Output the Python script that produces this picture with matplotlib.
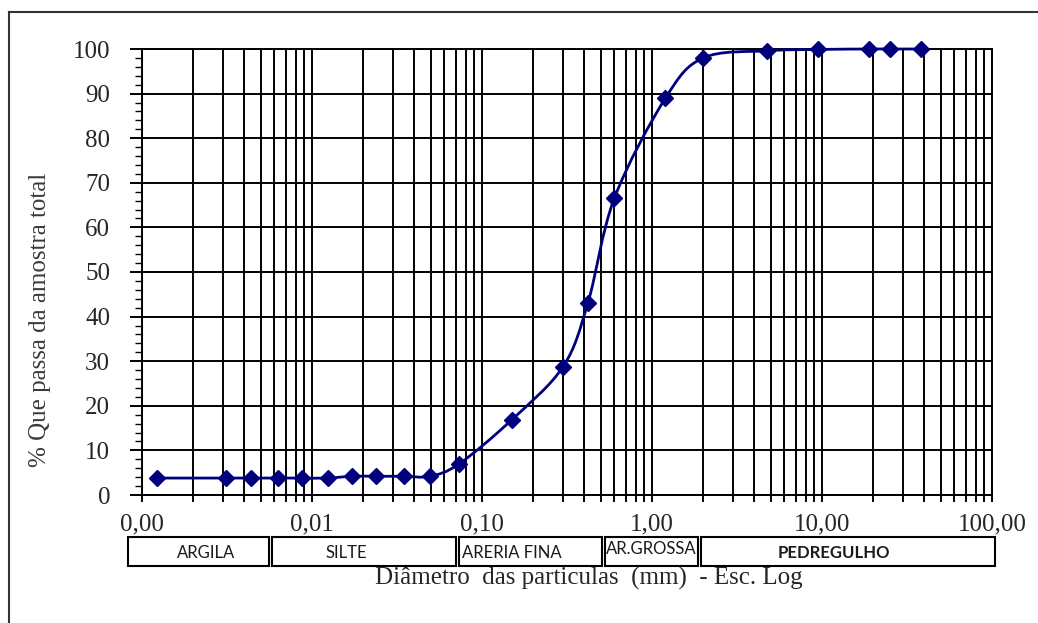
import matplotlib
matplotlib.use('Agg')
import matplotlib.pyplot as plt
from matplotlib.path import Path
from matplotlib.patches import PathPatch, Rectangle
from matplotlib.lines import Line2D
from matplotlib.ticker import FixedLocator, FuncFormatter, LogLocator, NullFormatter
import numpy as np

# grain size data
diametro = [0.00122, 0.0031, 0.0044, 0.0063, 0.0087, 0.0124, 0.0172, 0.0238,
            0.0347, 0.0494, 0.0735, 0.15, 0.30, 0.42, 0.60, 1.2, 2.0, 4.75,
            9.5, 19.0, 25.0, 38.0]
passante = [3.8, 3.8, 3.8, 3.8, 3.8, 3.8, 4.2, 4.2, 4.2, 4.2, 7.0, 16.9, 28.8,
            43.1, 66.5, 89.0, 98.0, 99.6, 99.9, 100.0, 100.0, 100.0]

classes = ['ARGILA', 'SILTE', 'ARERIA FINA', 'AR.GROSSA', 'PEDREGULHO']

navy = '#00007f'
W, H = 1038, 623

plt.rcParams['font.family'] = ['Liberation Serif', 'DejaVu Serif']

fig = plt.figure(figsize=(W / 100, H / 100), dpi=100)
ax = fig.add_axes([142 / W, 1 - 495 / H, (992 - 142) / W, (495 - 49) / H])

# smoothed line (Excel style Catmull-Rom through the points, in log-x space)
lx = np.log10(diametro)
py = np.array(passante)
verts = [(diametro[0], passante[0])]
codes = [Path.MOVETO]
n = len(lx)
for i in range(n - 1):
    p0 = (lx[max(i - 1, 0)], py[max(i - 1, 0)])
    p1 = (lx[i], py[i])
    p2 = (lx[i + 1], py[i + 1])
    p3 = (lx[min(i + 2, n - 1)], py[min(i + 2, n - 1)])
    c1 = (p1[0] + (p2[0] - p0[0]) / 6, p1[1] + (p2[1] - p0[1]) / 6)
    c2 = (p2[0] - (p3[0] - p1[0]) / 6, p2[1] - (p3[1] - p1[1]) / 6)
    for c in (c1, c2, p2):
        verts.append((10 ** c[0], c[1]))
        codes.append(Path.CURVE4)
ax.add_patch(PathPatch(Path(verts, codes), fill=False, edgecolor=navy, lw=2,
                       zorder=3, clip_on=False))
ax.plot(diametro, passante, linestyle='none', marker='D', ms=8.5, color=navy,
        zorder=4, clip_on=False)

ax.set_xscale('log')
ax.set_xlim(0.001, 100)
ax.set_ylim(0, 100)

ax.xaxis.set_major_locator(LogLocator(base=10, numticks=10))
ax.xaxis.set_minor_locator(LogLocator(base=10, subs=np.arange(2, 10), numticks=100))
ax.xaxis.set_minor_formatter(NullFormatter())
ax.xaxis.set_major_formatter(FuncFormatter(lambda v, p: ('%.2f' % v).replace('.', ',')))
ax.yaxis.set_major_locator(FixedLocator(np.arange(0, 101, 10)))
ax.yaxis.set_minor_locator(FixedLocator(np.arange(0, 101, 2)))

ax.grid(True, which='major', color='black', lw=1.4)
ax.grid(True, which='minor', axis='x', color='black', lw=1.4)
ax.tick_params(axis='x', which='both', direction='out', length=5, width=1.4,
               labelsize=18, pad=8, labelcolor='#262626')
ax.tick_params(axis='y', which='major', direction='out', length=9, width=1.4,
               labelsize=18, pad=14, labelcolor='#262626')
ax.tick_params(axis='y', which='minor', direction='out', length=5, width=1.0)
for s in ax.spines.values():
    s.set_color('black')
    s.set_linewidth(1.4)

fig.text(40 / W, 1 - 320 / H, '% Que passa da amostra total', rotation=90,
         ha='center', va='center', fontsize=18, color='#3a3a3a')
fig.text(589 / W, 1 - 578 / H, 'Diâmetro  das particulas  (mm)  - Esc. Log',
         ha='center', va='center', fontsize=18, color='#262626')

# soil class strip
box_edges = [(128, 269), (272, 456), (459, 602), (605, 698), (701, 995)]
box_text = [(206, 553, 'center', 'normal'), (346, 553, 'center', 'normal'),
            (462, 553, 'left', 'normal'), (606, 549, 'left', 'normal'),
            (834, 553, 'center', 'bold')]
for (x0, x1), (tx, ty, ha, fw), lab in zip(box_edges, box_text, classes):
    fig.patches.append(Rectangle((x0 / W, 1 - 566 / H), (x1 - x0) / W, 29 / H,
                                 transform=fig.transFigure, fill=False,
                                 edgecolor='black', lw=1.5))
    fig.text(tx / W, 1 - ty / H, lab, ha=ha, va='center', fontsize=12,
             fontweight=fw, family=['Lato', 'DejaVu Sans'], color='#1a1a1a')

# outer frame
fig.add_artist(Line2D([9 / W, 9 / W], [0, 1 - 12 / H], color='#333333', lw=1.5))
fig.add_artist(Line2D([9 / W, 1], [1 - 12 / H, 1 - 12 / H], color='#333333', lw=1.5))

fig.savefig('out.png', dpi=100)
